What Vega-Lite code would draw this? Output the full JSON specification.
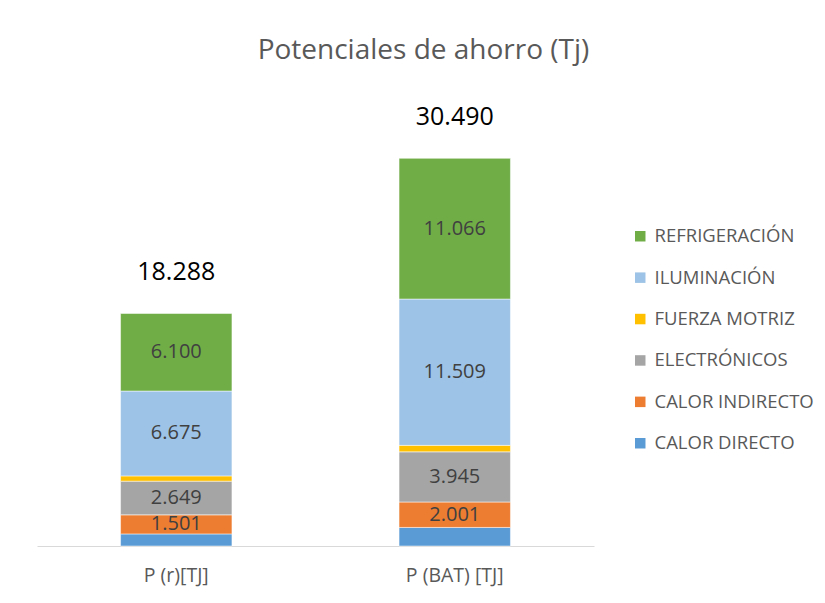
{
  "$schema": "https://vega.github.io/schema/vega-lite/v6.json",
  "autosize": "none",
  "width": 557,
  "height": 445,
  "padding": {"left": 37, "top": 101, "right": 231, "bottom": 57},
  "background": "white",
  "config": {"view": {"stroke": null}, "font": "Open Sans"},
  "title": {"text": "Potenciales de ahorro (Tj)", "font": "Open Sans", "fontSize": 28, "fontWeight": "normal", "color": "#595959", "anchor": "middle", "frame": "group", "dx": 108, "offset": 36},
  "data": {"values": [
    {"categoria": "P (r)[TJ]", "uso": "CALOR DIRECTO", "orden": 1, "valor": 0.950},
    {"categoria": "P (r)[TJ]", "uso": "CALOR INDIRECTO", "orden": 2, "valor": 1.501},
    {"categoria": "P (r)[TJ]", "uso": "ELECTRÓNICOS", "orden": 3, "valor": 2.649},
    {"categoria": "P (r)[TJ]", "uso": "FUERZA MOTRIZ", "orden": 4, "valor": 0.413},
    {"categoria": "P (r)[TJ]", "uso": "ILUMINACIÓN", "orden": 5, "valor": 6.675},
    {"categoria": "P (r)[TJ]", "uso": "REFRIGERACIÓN", "orden": 6, "valor": 6.100},
    {"categoria": "P (BAT) [TJ]", "uso": "CALOR DIRECTO", "orden": 1, "valor": 1.460},
    {"categoria": "P (BAT) [TJ]", "uso": "CALOR INDIRECTO", "orden": 2, "valor": 2.001},
    {"categoria": "P (BAT) [TJ]", "uso": "ELECTRÓNICOS", "orden": 3, "valor": 3.945},
    {"categoria": "P (BAT) [TJ]", "uso": "FUERZA MOTRIZ", "orden": 4, "valor": 0.509},
    {"categoria": "P (BAT) [TJ]", "uso": "ILUMINACIÓN", "orden": 5, "valor": 11.509},
    {"categoria": "P (BAT) [TJ]", "uso": "REFRIGERACIÓN", "orden": 6, "valor": 11.066}
  ]},
  "transform": [
    {"stack": "valor", "groupby": ["categoria"], "sort": [{"field": "orden", "order": "ascending"}], "as": ["v0", "v1"]},
    {"calculate": "(datum.v0 + datum.v1) / 2", "as": "vmid"}
  ],
  "encoding": {
    "x": {"field": "categoria", "type": "nominal", "sort": ["P (r)[TJ]", "P (BAT) [TJ]"],
      "scale": {"paddingInner": 0.6, "paddingOuter": 0.3},
      "axis": {"title": null, "labelAngle": 0, "ticks": false, "domainColor": "#d9d9d9", "domainWidth": 1, "labelFontSize": 19.5, "labelColor": "#595959", "labelFont": "Open Sans", "labelPadding": 20}}
  },
  "layer": [
    {
      "mark": {"type": "bar", "stroke": "white", "strokeWidth": 0.5},
      "encoding": {
        "y": {"field": "v0", "type": "quantitative", "scale": {"domain": [0, 35]}, "axis": null},
        "y2": {"field": "v1"},
        "color": {"field": "uso", "type": "nominal",
          "scale": {"domain": ["REFRIGERACIÓN", "ILUMINACIÓN", "FUERZA MOTRIZ", "ELECTRÓNICOS", "CALOR INDIRECTO", "CALOR DIRECTO"],
                    "range": ["#70AD47", "#9DC3E6", "#FFC000", "#A5A5A5", "#ED7D31", "#5B9BD5"]},
          "legend": {"title": null, "orient": "none", "legendX": 594, "legendY": 126, "symbolType": "square", "symbolSize": 110, "symbolStrokeWidth": 0, "labelFontSize": 18.5, "labelColor": "#595959", "labelFont": "Open Sans", "rowPadding": 22.4, "labelOffset": 5}}
      }
    },
    {
      "transform": [{"filter": "datum.uso != 'CALOR DIRECTO' && datum.uso != 'FUERZA MOTRIZ'"}],
      "mark": {"type": "text", "fontSize": 20, "color": "#404040", "font": "Open Sans"},
      "encoding": {
        "y": {"field": "vmid", "type": "quantitative"},
        "text": {"field": "valor", "type": "quantitative", "format": ".3f"}
      }
    },
    {
      "mark": {"type": "text", "fontSize": 25, "color": "#000000", "font": "Open Sans", "baseline": "middle", "dy": -41},
      "encoding": {
        "y": {"aggregate": "sum", "field": "valor", "type": "quantitative"},
        "text": {"aggregate": "sum", "field": "valor", "type": "quantitative", "format": ".3f"}
      }
    }
  ]
}
